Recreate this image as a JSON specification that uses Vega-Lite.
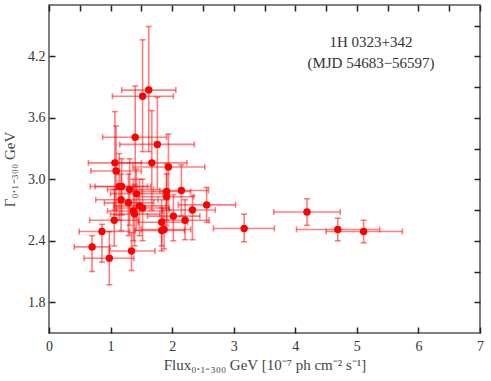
{
  "$schema": "https://vega.github.io/schema/vega-lite/v6.json",
  "autosize": {"type": "none"},
  "padding": {"left": 49, "top": 5, "right": 11, "bottom": 48},
  "width": 431,
  "height": 328,
  "title": {
    "text": ["1H 0323+342", "(MJD 54683−56597)"],
    "anchor": "end",
    "align": "center",
    "baseline": "top",
    "orient": "top",
    "frame": "group",
    "offset": 0,
    "dx": -109,
    "dy": 67,
    "font": "Liberation Serif",
    "fontSize": 15,
    "fontWeight": "normal",
    "lineHeight": 21,
    "color": "#333"
  },
  "data": {
    "values": [
      {"x": 4.19, "xlo": 3.65, "xhi": 4.73, "y": 2.68, "ylo": 2.55, "yhi": 2.81},
      {"x": 3.17, "xlo": 2.67, "xhi": 3.66, "y": 2.52, "ylo": 2.39, "yhi": 2.66},
      {"x": 4.69, "xlo": 4.02, "xhi": 5.37, "y": 2.51, "ylo": 2.40, "yhi": 2.62},
      {"x": 5.11, "xlo": 4.50, "xhi": 5.74, "y": 2.49, "ylo": 2.38, "yhi": 2.60},
      {"x": 2.56, "xlo": 2.10, "xhi": 3.03, "y": 2.75, "ylo": 2.58, "yhi": 2.92},
      {"x": 0.70, "xlo": 0.41, "xhi": 0.99, "y": 2.34, "ylo": 2.10, "yhi": 2.45},
      {"x": 0.98, "xlo": 0.57, "xhi": 1.38, "y": 2.23, "ylo": 1.97, "yhi": 2.49},
      {"x": 1.34, "xlo": 0.98, "xhi": 1.72, "y": 2.30, "ylo": 2.11, "yhi": 2.48},
      {"x": 0.86, "xlo": 0.49, "xhi": 1.31, "y": 2.49, "ylo": 2.19, "yhi": 2.56},
      {"x": 1.62, "xlo": 1.18, "xhi": 2.06, "y": 3.87, "ylo": 3.27, "yhi": 4.49},
      {"x": 1.52, "xlo": 1.03, "xhi": 2.02, "y": 3.81, "ylo": 3.27, "yhi": 4.36},
      {"x": 1.40, "xlo": 0.87, "xhi": 1.91, "y": 3.41, "ylo": 2.93, "yhi": 3.91},
      {"x": 1.76, "xlo": 1.15, "xhi": 2.36, "y": 3.34, "ylo": 2.90, "yhi": 3.80},
      {"x": 1.67, "xlo": 1.10, "xhi": 2.24, "y": 3.16, "ylo": 2.70, "yhi": 3.67},
      {"x": 1.07, "xlo": 0.64, "xhi": 1.50, "y": 3.16, "ylo": 2.70, "yhi": 3.66},
      {"x": 1.94, "xlo": 1.36, "xhi": 2.53, "y": 3.12, "ylo": 2.70, "yhi": 3.44},
      {"x": 1.09, "xlo": 0.68, "xhi": 1.50, "y": 3.08, "ylo": 2.65, "yhi": 3.52},
      {"x": 2.15, "xlo": 1.80, "xhi": 2.59, "y": 2.89, "ylo": 2.64, "yhi": 3.14},
      {"x": 1.14, "xlo": 0.67, "xhi": 1.60, "y": 2.93, "ylo": 2.60, "yhi": 3.25},
      {"x": 1.18, "xlo": 0.75, "xhi": 1.65, "y": 2.93, "ylo": 2.65, "yhi": 3.20},
      {"x": 1.31, "xlo": 0.95, "xhi": 1.70, "y": 2.90, "ylo": 2.55, "yhi": 3.20},
      {"x": 1.42, "xlo": 1.00, "xhi": 1.85, "y": 2.86, "ylo": 2.50, "yhi": 3.10},
      {"x": 1.91, "xlo": 1.50, "xhi": 2.30, "y": 2.88, "ylo": 2.60, "yhi": 3.15},
      {"x": 1.91, "xlo": 1.45, "xhi": 2.35, "y": 2.83, "ylo": 2.55, "yhi": 3.05},
      {"x": 1.17, "xlo": 0.76, "xhi": 1.77, "y": 2.80, "ylo": 2.50, "yhi": 3.05},
      {"x": 1.29, "xlo": 0.90, "xhi": 1.70, "y": 2.77, "ylo": 2.45, "yhi": 3.05},
      {"x": 1.37, "xlo": 0.95, "xhi": 1.85, "y": 2.69, "ylo": 2.40, "yhi": 3.00},
      {"x": 1.47, "xlo": 1.05, "xhi": 1.90, "y": 2.74, "ylo": 2.45, "yhi": 3.00},
      {"x": 1.52, "xlo": 1.10, "xhi": 1.95, "y": 2.72, "ylo": 2.40, "yhi": 3.00},
      {"x": 1.39, "xlo": 1.00, "xhi": 1.80, "y": 2.66, "ylo": 2.35, "yhi": 2.95},
      {"x": 2.33, "xlo": 1.95, "xhi": 2.70, "y": 2.70, "ylo": 2.41, "yhi": 2.84},
      {"x": 1.06, "xlo": 0.66, "xhi": 1.45, "y": 2.60, "ylo": 2.35, "yhi": 2.90},
      {"x": 2.02, "xlo": 1.60, "xhi": 2.45, "y": 2.64, "ylo": 2.40, "yhi": 2.85},
      {"x": 2.21, "xlo": 1.85, "xhi": 2.60, "y": 2.60, "ylo": 2.41, "yhi": 2.80},
      {"x": 1.83, "xlo": 1.45, "xhi": 2.25, "y": 2.58, "ylo": 2.35, "yhi": 2.80},
      {"x": 1.83, "xlo": 1.40, "xhi": 2.20, "y": 2.50, "ylo": 2.30, "yhi": 2.72},
      {"x": 1.87, "xlo": 1.50, "xhi": 2.30, "y": 2.51, "ylo": 2.32, "yhi": 2.70}
    ]
  },
  "layer": [
    {
      "layer": [
        {
          "mark": {"type": "errorbar", "ticks": {"size": 6, "opacity": 0.5, "color": "#ff0000", "thickness": 1.6}, "rule": {"opacity": 0.5, "color": "#ff0000", "strokeWidth": 1.6}},
          "encoding": {
            "x": {"field": "xlo", "type": "quantitative", "scale": {"domain": [0, 7], "nice": false, "zero": false}, "title": "Flux₀.₁₋₃₀₀ GeV [10⁻⁷ ph cm⁻² s⁻¹]",
              "axis": {"values": [0, 0.5, 1, 1.5, 2, 2.5, 3, 3.5, 4, 4.5, 5, 5.5, 6, 6.5, 7], "labelExpr": "datum.value % 1 == 0 ? format(datum.value, 'd') : ''", "offset": -6, "ticks": true, "tickSize": 6, "tickWidth": 1.5, "tickColor": "#222", "tickOpacity": 1, "domain": false, "zindex": 2, "labelPadding": 6, "labelFlush": false, "titlePadding": 4}},
            "x2": {"field": "xhi"},
            "y": {"field": "y", "type": "quantitative", "scale": {"domain": [1.5, 4.7], "nice": false, "zero": false}, "title": "Γ₀.₁₋₃₀₀ GeV",
              "axis": {"values": [1.8, 2.1, 2.4, 2.7, 3.0, 3.3, 3.6, 3.9, 4.2, 4.5], "labelExpr": "abs(datum.value * 10 / 6 - round(datum.value * 10 / 6)) < 0.01 ? format(datum.value, '.1f') : ''", "offset": -6, "ticks": true, "tickSize": 6, "tickWidth": 1.5, "tickColor": "#222", "tickOpacity": 1, "domain": false, "zindex": 2, "labelPadding": 4, "labelFlush": false, "titlePadding": 10}}
          }
        },
        {
          "mark": {"type": "errorbar", "ticks": {"size": 6, "opacity": 0.5, "color": "#ff0000", "thickness": 1.6}, "rule": {"opacity": 0.5, "color": "#ff0000", "strokeWidth": 1.6}},
          "encoding": {
            "y": {"field": "ylo", "type": "quantitative", "title": "Γ₀.₁₋₃₀₀ GeV"},
            "y2": {"field": "yhi"},
            "x": {"field": "x", "type": "quantitative", "title": "Flux₀.₁₋₃₀₀ GeV [10⁻⁷ ph cm⁻² s⁻¹]"}
          }
        },
        {
          "mark": {"type": "point", "filled": true, "size": 55, "color": "#ff0000", "opacity": 1},
          "encoding": {
            "x": {"field": "x", "type": "quantitative", "title": "Flux₀.₁₋₃₀₀ GeV [10⁻⁷ ph cm⁻² s⁻¹]"},
            "y": {"field": "y", "type": "quantitative", "title": "Γ₀.₁₋₃₀₀ GeV"}
          }
        }
      ]
    },
    {
      "mark": {"type": "point", "opacity": 0},
      "encoding": {
        "x": {"field": "x", "type": "quantitative", "scale": {"domain": [0, 7], "nice": false, "zero": false},
          "axis": {"orient": "top", "labels": false, "title": null, "values": [0, 0.5, 1, 1.5, 2, 2.5, 3, 3.5, 4, 4.5, 5, 5.5, 6, 6.5, 7], "offset": -6, "ticks": true, "tickSize": 6, "tickWidth": 1.5, "tickColor": "#222", "tickOpacity": 1, "domain": false, "zindex": 2}},
        "y": {"field": "y", "type": "quantitative", "scale": {"domain": [1.5, 4.7], "nice": false, "zero": false},
          "axis": {"orient": "right", "labels": false, "title": null, "values": [1.8, 2.1, 2.4, 2.7, 3.0, 3.3, 3.6, 3.9, 4.2, 4.5], "offset": -6, "ticks": true, "tickSize": 6, "tickWidth": 1.5, "tickColor": "#222", "tickOpacity": 1, "domain": false, "zindex": 2}}
      }
    }
  ],
  "resolve": {"axis": {"x": "independent", "y": "independent"}},
  "config": {
    "view": {"stroke": "#555", "strokeWidth": 1.5},
    "font": "Liberation Serif",
    "axis": {
      "grid": false,
      "labelFont": "Liberation Serif",
      "labelFontSize": 14,
      "labelColor": "#333",
      "titleFont": "Liberation Serif",
      "titleFontSize": 15,
      "titleFontWeight": "normal",
      "titleColor": "#444"
    }
  }
}
